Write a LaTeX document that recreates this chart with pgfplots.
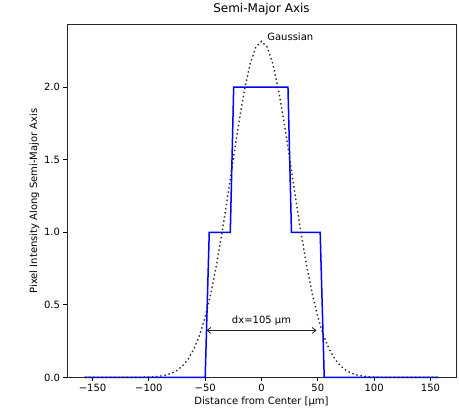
\documentclass[border=0pt]{standalone}
\usepackage{fontspec}
\setmainfont{DejaVu Sans}
\usepackage{pgfplots}
\pgfplotsset{compat=1.18}
\usetikzlibrary{arrows.meta}
\newcommand{\tk}{\fontsize{10bp}{12bp}\selectfont}
\newcommand{\ttl}{\fontsize{12bp}{14bp}\selectfont}
\begin{document}
\begin{tikzpicture}
\begin{axis}[
  name=ax,
  scale only axis,
  width=389bp, height=353bp,
  xmin=-172.7, xmax=172.7,
  ymin=0, ymax=2.433,
  xtick={-150,-100,-50,0,50,100,150},
  xticklabels={−150,−100,−50,0,50,100,150},
  ytick={0,0.5,1,1.5,2},
  yticklabels={0.0,0.5,1.0,1.5,2.0},
  tick align=outside,
  tick pos=left,
  major tick length=3.5bp,
  tick style={black, line width=0.8bp},
  axis line style={line width=0.8bp, black!85},
  ticklabel style={font=\tk},
  title={Semi-Major Axis},
  title style={font=\ttl, yshift=0bp},
  xlabel={Distance from Center [µm]},
  ylabel={Pixel Intensity Along Semi-Major Axis},
  label style={font=\tk},
  xlabel style={yshift=2bp},
  ylabel style={yshift=-2bp},
  clip=false,
]
\addplot[blue, line width=1.5bp] coordinates {
  (-157,0) (-50,0) (-46.4,1) (-27.7,1) (-24.7,2) (23.5,2) (26.6,1) (52.1,1) (55.7,0) (157,0)
};
\addplot[black!85, line width=1.4bp, dash pattern=on 1.4bp off 2.8bp] coordinates {
  (-157,0) (-120,0.0001) (-110,0.0005) (-100,0.0024) (-95,0.0048) (-90,0.0090) (-85,0.0163)
  (-80,0.0288) (-75,0.0489) (-70,0.0804) (-65,0.1278) (-60,0.1961) (-55,0.2910)
  (-50,0.4171) (-45,0.5779) (-40,0.7732) (-35,1.0000) (-30,1.2498) (-25,1.5093)
  (-20,1.7612) (-15,1.9857) (-10,2.1634) (-5,2.2776) (0,2.317)
  (5,2.2776) (10,2.1634) (15,1.9857) (20,1.7612) (25,1.5093) (30,1.2498)
  (35,1.0000) (40,0.7732) (45,0.5779) (50,0.4171) (55,0.2910) (60,0.1961)
  (65,0.1278) (70,0.0804) (75,0.0489) (80,0.0288) (85,0.0163) (90,0.0090)
  (95,0.0048) (100,0.0024) (110,0.0005) (120,0.0001) (157,0)
};
\draw[{Straight Barb[length=4bp,width=6bp]}-{Straight Barb[length=4bp,width=6bp]}, line width=0.8bp, black!85] (axis cs:-49,0.324) -- (axis cs:49,0.324);
\node[font=\tk, anchor=center, inner sep=0pt] at (axis cs:0,0.39) {dx=105 µm};
\node[font=\tk, anchor=west, inner sep=0pt] at (axis cs:5,2.345) {Gaussian};
\end{axis}
\path ([shift={(-67bp,-39bp)}]ax.south west) rectangle ([shift={(3bp,23bp)}]ax.north east);
\end{tikzpicture}
\end{document}
